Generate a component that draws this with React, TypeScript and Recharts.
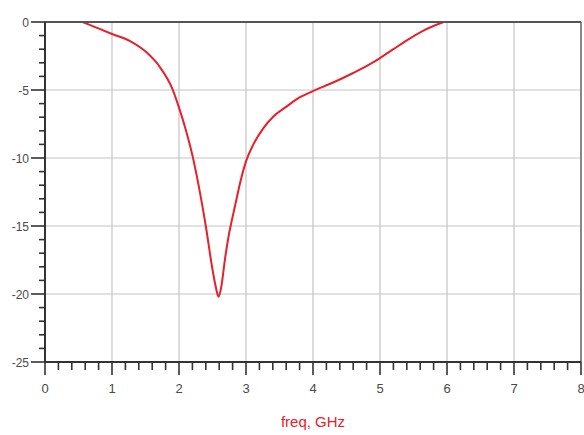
import { LineChart, Line, XAxis, YAxis, ReferenceLine } from 'recharts';

// S11 vs frequency
const freqGHz = [
  0.56, 0.72, 1.0, 1.27, 1.52, 1.72, 1.9, 2.0, 2.1, 2.2, 2.3, 2.4, 2.5, 2.55,
  2.59, 2.63, 2.69, 2.735, 2.835, 2.93, 3.0, 3.11, 3.26, 3.41, 3.61, 3.8, 4.0,
  4.3, 4.6, 4.85, 5.0, 5.2, 5.4, 5.64, 5.95,
];
const s11dB = [
  0, -0.32, -0.88, -1.4, -2.25, -3.35, -4.9, -6.3, -7.9, -9.8, -12.2, -15.0, -18.2, -19.5,
  -20.2, -19.5, -17.3, -15.9, -13.55, -11.47, -10.25, -9.0, -7.8, -6.95, -6.2, -5.55, -5.08,
  -4.45, -3.75, -3.1, -2.65, -2.0, -1.35, -0.65, 0,
];

const xMajor = [0, 1, 2, 3, 4, 5, 6, 7, 8];
const yMajor = [-25, -20, -15, -10, -5, 0];
const xTicks = Array.from({ length: 41 }, (_, i) => Math.round(i * 2) / 10);
const yTicks = Array.from({ length: 26 }, (_, i) => i - 25);

const data = freqGHz.map((f, i) => ({ freq: f, s11: s11dB[i] }));

const AXIS = '#333';
const LABEL = '#4a4a4a';
const GRID = '#c4c4c4';

function isMajor(v: number, step: number) {
  const r = v / step;
  return Math.abs(r - Math.round(r)) < 1e-6;
}

function XTick(props: any) {
  const { x, y, payload } = props;
  const major = isMajor(payload.value, 1);
  return (
    <g>
      <line x1={x} x2={x} y1={y} y2={y + (major ? 13 : 8)} stroke={AXIS} strokeWidth={1.6} />
      {major && (
        <text x={x} y={y + 31} textAnchor="middle" fontSize={13} fill={LABEL} fontFamily="Liberation Sans, Arial, sans-serif">
          {payload.value}
        </text>
      )}
    </g>
  );
}

function YTick(props: any) {
  const { x, y, payload } = props;
  const major = isMajor(payload.value, 5);
  return (
    <g>
      <line x1={x} x2={x - (major ? 14 : 6)} y1={y} y2={y} stroke={AXIS} strokeWidth={1.6} />
      {major && (
        <text x={x - 16} y={y + 4.5} textAnchor="end" fontSize={12} fill={LABEL} fontFamily="Liberation Sans, Arial, sans-serif">
          {payload.value}
        </text>
      )}
    </g>
  );
}

export default function App() {
  return (
    <div style={{ position: 'absolute', left: 0, top: 0, width: 584, height: 435, background: '#fff' }}>
      <LineChart width={584} height={435} data={data} margin={{ top: 22, right: 3, bottom: 0, left: 0 }}>
        {xMajor.slice(1, -1).map((v) => (
          <ReferenceLine key={`gx${v}`} x={v} stroke={GRID} strokeWidth={1.2} />
        ))}
        {yMajor.slice(1, -1).map((v) => (
          <ReferenceLine key={`gy${v}`} y={v} stroke={GRID} strokeWidth={1.2} />
        ))}
        <ReferenceLine x={8} stroke="#888" strokeWidth={2} />
        <XAxis
          dataKey="freq"
          type="number"
          domain={[0, 8]}
          ticks={xTicks}
          interval={0}
          height={73}
          tickSize={0}
          tickMargin={0}
          tickLine={false}
          tick={<XTick />}
          axisLine={{ stroke: AXIS, strokeWidth: 2 }}
          label={{
            value: 'freq, GHz',
            position: 'insideBottom',
            offset: 8,
            fill: '#e8202a',
            fontSize: 15,
            fontFamily: 'Liberation Sans, Arial, sans-serif',
          }}
        />
        <YAxis
          type="number"
          domain={[-25, 0]}
          ticks={yTicks}
          interval={0}
          width={45}
          tickSize={0}
          tickMargin={0}
          tickLine={false}
          tick={<YTick />}
          axisLine={{ stroke: AXIS, strokeWidth: 2 }}
        />
        <Line
          dataKey="s11"
          type="monotone"
          stroke="#e8202a"
          strokeWidth={2}
          dot={false}
          isAnimationActive={false}
        />
        <ReferenceLine y={0} stroke="#555" strokeWidth={2} />
      </LineChart>
    </div>
  );
}
